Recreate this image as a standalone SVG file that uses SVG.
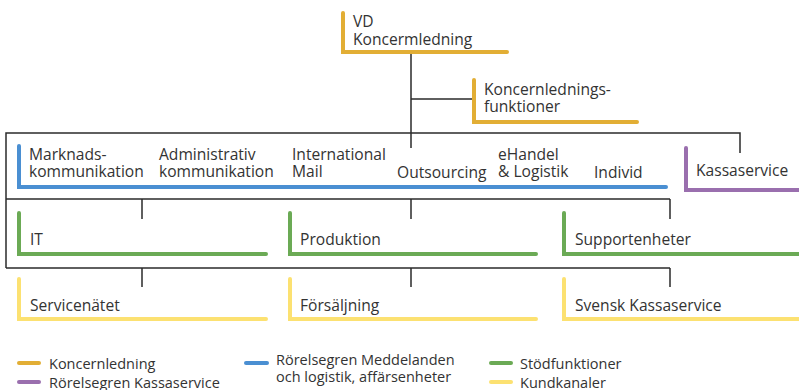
<svg xmlns="http://www.w3.org/2000/svg" width="799" height="390" viewBox="0 0 799 390">
<style>
  text { font-family: "Open Sans", "Noto Sans", "Liberation Sans", sans-serif; font-size: 15.6px; fill: #333; }
  .lg { font-size: 14.5px; }
  .c { fill: none; stroke: #2b2b2b; stroke-width: 1.5; }
  .n { fill: none; stroke-width: 4; stroke-linecap: round; stroke-linejoin: miter; }
  .sw { stroke-width: 4; stroke-linecap: round; }
  .kl { stroke: #E2AE35; }
  .bl { stroke: #4A8FD2; }
  .pu { stroke: #9A6FAE; }
  .gr { stroke: #6BAA55; }
  .ye { stroke: #FCE171; }
</style>
<rect width="799" height="390" fill="#fff"/>
<g id="connectors">
  <path class="c" d="M411 53 V148 M411 99 H474"/>
  <path class="c" d="M6 268 V133 H740 V153"/>
  <path class="c" d="M6 199 H670 M142 199 V219 M411 199 V219 M670 199 V219"/>
  <path class="c" d="M6 268 H670 M142 268 V287 M411 268 V287 M670 268 V287"/>
</g>
<g id="vd">
  <path class="n kl" d="M343 13 V52 H507"/>
  <text x="353" y="27">VD</text>
  <text x="353" y="45">Koncermledning</text>
</g>
<g id="koncernledningsfunktioner">
  <path class="n kl" d="M474 80 V122 H637"/>
  <text x="484" y="95">Koncernlednings-</text>
  <text x="484" y="112">funktioner</text>
</g>
<g id="meddelanden">
  <path class="n bl" d="M19 146 V187 H666"/>
  <text x="29" y="160">Marknads-</text>
  <text x="29" y="177">kommunikation</text>
  <text x="159" y="160">Administrativ</text>
  <text x="159" y="177">kommunikation</text>
  <text x="292" y="160">International</text>
  <text x="292" y="177">Mail</text>
  <text x="397" y="178">Outsourcing</text>
  <text x="498" y="160">eHandel</text>
  <text x="498" y="177">&amp; Logistik</text>
  <text x="594" y="178">Individ</text>
</g>
<g id="kassaservice">
  <path class="n pu" d="M686 148 V190 H801"/>
  <text x="696" y="176">Kassaservice</text>
</g>
<g id="it">
  <path class="n gr" d="M19 213 V254 H266"/>
  <text x="30" y="245">IT</text>
</g>
<g id="produktion">
  <path class="n gr" d="M290 213 V254 H536"/>
  <text x="300" y="245">Produktion</text>
</g>
<g id="supportenheter">
  <path class="n gr" d="M564 213 V254 H801"/>
  <text x="575" y="245">Supportenheter</text>
</g>
<g id="servicenatet">
  <path class="n ye" d="M19 279 V319 H266"/>
  <text x="30" y="311">Servicenätet</text>
</g>
<g id="forsaljning">
  <path class="n ye" d="M290 279 V319 H536"/>
  <text x="300" y="311">Försäljning</text>
</g>
<g id="svensk-kassaservice">
  <path class="n ye" d="M564 279 V319 H801"/>
  <text x="575" y="311">Svensk Kassaservice</text>
</g>
<g id="legend">
  <line class="sw kl" x1="19" y1="363" x2="39" y2="363"/>
  <text class="lg" x="49" y="369">Koncernledning</text>
  <line class="sw pu" x1="19" y1="382" x2="39" y2="382"/>
  <text class="lg" x="49" y="388">Rörelsegren Kassaservice</text>
  <line class="sw bl" x1="246" y1="363" x2="267" y2="363"/>
  <text class="lg" x="276" y="365">Rörelsegren Meddelanden</text>
  <text class="lg" x="276" y="382">och logistik, affärsenheter</text>
  <line class="sw gr" x1="491" y1="363" x2="511" y2="363"/>
  <text class="lg" x="520" y="369">Stödfunktioner</text>
  <line class="sw ye" x1="491" y1="382" x2="511" y2="382"/>
  <text class="lg" x="520" y="388">Kundkanaler</text>
</g>
</svg>
